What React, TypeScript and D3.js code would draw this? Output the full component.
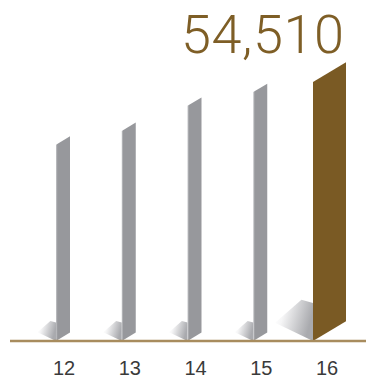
import React from "react";
import * as d3 from "d3";

const categories = ["12", "13", "14", "15", "16"];
const values = [41300, 44200, 49500, 52400, 54510];
const highlightIndex = 4;
const headline = "54,510";

const W = 373;
const H = 378;
const baseY = 341;

export default function App() {
  const x = d3.scalePoint<string>().domain(categories).range([64, 327]);
  const y = d3.scaleLinear().domain([0, 54510]).range([baseY, 82]);
  const slope = 0.6;

  return (
    <svg width={W} height={H} style={{ position: "absolute", left: 0, top: 0 }}>
      <defs>
        <linearGradient id="shadow" x1="0" y1="0" x2="1" y2="0.3">
          <stop offset="0" stopColor="#ffffff" stopOpacity="0" />
          <stop offset="0.3" stopColor="#f5f5f6" />
          <stop offset="1" stopColor="#a9aaae" />
        </linearGradient>
        <linearGradient id="grayBar" x1="0" y1="0" x2="1" y2="0">
          <stop offset="0" stopColor="#c4c5c8" />
          <stop offset="0.12" stopColor="#97989c" />
          <stop offset="1" stopColor="#97989c" />
        </linearGradient>
      </defs>
      {categories.map((c, i) => {
        const hi = i === highlightIndex;
        const w = hi ? 33 : 14;
        const cx = x(c)!;
        const x0 = hi ? cx - 14 : cx - 8;
        const x1 = x0 + w;
        const top = y(values[i]);
        const rise = w * slope;
        const bar = `M${x0},${top} L${x1},${top - rise} L${x1},${baseY - rise} L${x0},${baseY} Z`;
        const sw = hi ? w : w * 1.15;
        const shadow = `M${x0},${baseY} L${x0 - 1.15 * sw},${baseY - 0.55 * sw} L${x0 - 0.35 * sw},${baseY - 1.25 * sw} L${x0},${baseY - 1.15 * sw} Z`;
        return (
          <g key={c}>
            <path d={shadow} fill="url(#shadow)" />
            <path d={bar} fill={hi ? "#7a5a24" : "url(#grayBar)"} />
          </g>
        );
      })}
      <line x1={10} x2={366} y1={baseY} y2={baseY} stroke="#a88c5e" strokeWidth={2.5} />
      {categories.map((c) => (
        <text
          key={c}
          x={x(c)!}
          y={375}
          textAnchor="middle"
          fontFamily="Liberation Sans, Arial, sans-serif"
          fontSize={20}
          fill="#3a3a3a"
        >
          {c}
        </text>
      ))}
      <text
        x={181}
        y={53}
        fontFamily="Roboto, Liberation Sans, Arial, sans-serif"
        fontWeight={300}
        fontSize={54}
        fill="#7e5e26"
        textLength={163}
        lengthAdjust="spacing"
      >
        {headline}
      </text>
    </svg>
  );
}
